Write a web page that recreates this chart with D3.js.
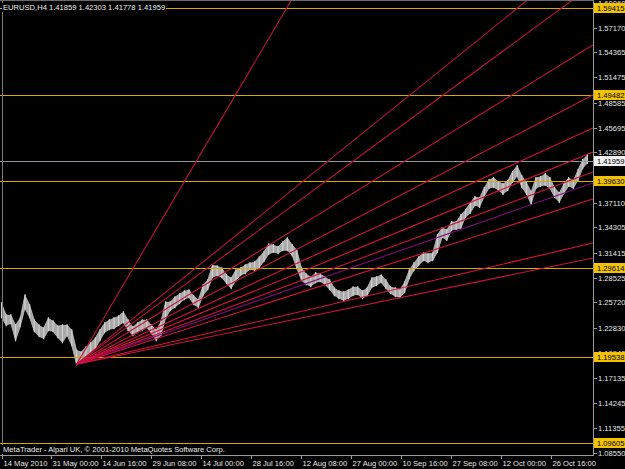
<!DOCTYPE html>
<html>
<head>
<meta charset="utf-8">
<script src="https://cdn.jsdelivr.net/npm/d3@7"></script>
<style>
  body { margin: 0; background: #000; }
  svg { display: block; }
</style>
</head>
<body>
<script>
(function () {
  'use strict';

  const width = 625,
    height = 469;

  // EURUSD H4, sampled every 6 bars (high / low of the group)
  const barsPerSample = 6;
  const highs = [
    1.2564, 1.2426, 1.2426, 1.2311, 1.2392, 1.2655, 1.2541, 1.2369, 1.2311, 1.2277,
    1.2392, 1.2357, 1.2300, 1.2311, 1.2311, 1.2254, 1.2024, 1.2002, 1.2059, 1.2105,
    1.2162, 1.2254, 1.2334, 1.2369, 1.2392, 1.2414, 1.2461, 1.2369, 1.2288, 1.2334,
    1.2369, 1.2369, 1.2311, 1.2254, 1.2346, 1.2575, 1.2575, 1.2633, 1.2667, 1.2701,
    1.2713, 1.2644, 1.2598, 1.2770, 1.2827, 1.2999, 1.2988, 1.2965, 1.2885, 1.2850,
    1.2942, 1.2965, 1.2999, 1.3022, 1.3034, 1.3091, 1.3149, 1.3240, 1.3229, 1.3206,
    1.3263, 1.3309, 1.3229, 1.3171, 1.2965, 1.2896, 1.2862, 1.2908, 1.2896, 1.2862,
    1.2827, 1.2736, 1.2701, 1.2690, 1.2713, 1.2747, 1.2747, 1.2701, 1.2736, 1.2850,
    1.2862, 1.2885, 1.2827, 1.2747, 1.2736, 1.2713, 1.2804, 1.2942, 1.3022, 1.3091,
    1.3137, 1.3126, 1.3137, 1.3344, 1.3424, 1.3401, 1.3493, 1.3493, 1.3573, 1.3630,
    1.3711, 1.3779, 1.3768, 1.3883, 1.3974, 1.3997, 1.3951, 1.3929, 1.3963, 1.4066,
    1.4135, 1.4020, 1.3940, 1.3837, 1.3997, 1.4009, 1.4043, 1.3997, 1.3883, 1.3825,
    1.3929, 1.3997, 1.3963, 1.4089, 1.4204, 1.4261
  ];
  const lows = [
    1.2403, 1.2311, 1.2334, 1.2139, 1.2300, 1.2506, 1.2403, 1.2242, 1.2185, 1.2162,
    1.2254, 1.2242, 1.2174, 1.2116, 1.2197, 1.2082, 1.1864, 1.1887, 1.1944, 1.2002,
    1.2047, 1.2139, 1.2231, 1.2265, 1.2277, 1.2311, 1.2346, 1.2254, 1.2197, 1.2231,
    1.2254, 1.2288, 1.2219, 1.2139, 1.2197, 1.2392, 1.2483, 1.2518, 1.2564, 1.2610,
    1.2633, 1.2552, 1.2518, 1.2655, 1.2724, 1.2862, 1.2885, 1.2862, 1.2793, 1.2736,
    1.2827, 1.2885, 1.2908, 1.2954, 1.2942, 1.2976, 1.3045, 1.3126, 1.3149, 1.3137,
    1.3171, 1.3171, 1.3114, 1.2965, 1.2827, 1.2781, 1.2759, 1.2804, 1.2816, 1.2781,
    1.2724, 1.2655, 1.2621, 1.2598, 1.2621, 1.2655, 1.2667, 1.2621, 1.2655, 1.2747,
    1.2770, 1.2804, 1.2736, 1.2678, 1.2644, 1.2633, 1.2690, 1.2850, 1.2942, 1.2999,
    1.3057, 1.3034, 1.3057, 1.3149, 1.3321, 1.3286, 1.3401, 1.3412, 1.3424, 1.3550,
    1.3596, 1.3688, 1.3665, 1.3791, 1.3883, 1.3894, 1.3860, 1.3814, 1.3860, 1.3951,
    1.4020, 1.3894, 1.3814, 1.3699, 1.3883, 1.3906, 1.3917, 1.3883, 1.3779, 1.3722,
    1.3825, 1.3906, 1.3883, 1.3974, 1.4112, 1.4169
  ];

  // gann fan: origin at the June low, each ray given by its price at the right edge
  const fanOrigin = { bar: 96, price: 1.1866 };
  const fanEndBar = 757;
  const fanEnds = [2.1880, 1.6639, 1.6205, 1.5520, 1.4947, 1.4570, 1.4295, 1.4066, 1.3940, 1.3757, 1.3253, 1.3081];
  const fanColors = ['#c0103c', '#c0103c', '#c0103c', '#c8103c', '#c8103c', '#d0103c', '#e0103c',
    '#c8103c', '#80087a', '#d8103c', '#e0103c', '#d0103c'];

  const levels = [1.59415, 1.49482, 1.39630, 1.29614, 1.19538, 1.09605];
  const bid = 1.41959;
  const title = 'EURUSD,H4  1.41859 1.42303 1.41778 1.41959';
  const footer = 'MetaTrader - Alpari UK, \u00a9 2001-2010 MetaQuotes Software Corp.';

  const priceTicks = [1.60060, 1.57170, 1.54365, 1.51475, 1.48585, 1.45695, 1.42890, 1.40000, 1.37110,
    1.34305, 1.31415, 1.28525, 1.25720, 1.22830, 1.19940, 1.17135, 1.14245, 1.11355, 1.08550];
  const barsPerLabel = 64;
  const timeLabels = ['14 May 2010', '31 May 00:00', '14 Jun 16:00', '29 Jun 08:00', '14 Jul 00:00',
    '28 Jul 16:00', '12 Aug 08:00', '27 Aug 00:00', '10 Sep 16:00', '27 Sep 08:00', '12 Oct 00:00', '26 Oct 16:00'];

  const plotRight = 593,
    plotBottom = 455;
  const font = '"Liberation Sans", Arial, sans-serif';
  const gold = '#d8aa00';
  const axisColor = '#9a9a9a';

  const x = d3.scaleLinear().domain([0, 756.5]).range([1.5, 592.5]);
  const y = d3.scaleLinear().domain([1.0855, 1.6006]).range([452.5, 2.5]);

  const svg = d3.select('body')
    .append('svg')
    .attr('width', width)
    .attr('height', height)
    .style('background', '#000');

  svg.append('clipPath').attr('id', 'plot')
    .append('rect').attr('x', 0).attr('y', 0).attr('width', plotRight).attr('height', plotBottom);

  const plot = svg.append('g').attr('clip-path', 'url(#plot)');

  // price band: area between the sampled highs and lows, plus a wick per sample
  const band = d3.area()
    .x((d, i) => x(i * barsPerSample))
    .y0((d, i) => y(lows[i]))
    .y1(d => y(d));
  plot.append('path')
    .datum(highs)
    .attr('d', band)
    .style('fill', '#a9a9a9')
    .style('stroke', '#c4c4c4')
    .style('stroke-width', 0.8);

  plot.selectAll('line.wick')
    .data(highs)
    .enter()
    .append('line')
    .attr('class', 'wick')
    .attr('x1', (d, i) => x(i * barsPerSample))
    .attr('x2', (d, i) => x(i * barsPerSample))
    .attr('y1', d => y(d) - 1)
    .attr('y2', (d, i) => y(lows[i]) + 1)
    .style('stroke', '#d0d0d0')
    .style('stroke-width', 1.2);

  // horizontal levels
  plot.selectAll('line.level')
    .data(levels)
    .enter()
    .append('line')
    .attr('x1', 0).attr('x2', plotRight)
    .attr('y1', d => Math.round(y(d)) + 0.5)
    .attr('y2', d => Math.round(y(d)) + 0.5)
    .style('stroke', gold)
    .style('stroke-width', 1);

  // bid line
  plot.append('line')
    .attr('x1', 0).attr('x2', plotRight)
    .attr('y1', Math.round(y(bid)) + 0.5).attr('y2', Math.round(y(bid)) + 0.5)
    .style('stroke', '#8c969e');

  // fan rays
  plot.selectAll('line.fan')
    .data(fanEnds)
    .enter()
    .append('line')
    .attr('x1', x(fanOrigin.bar))
    .attr('y1', y(fanOrigin.price))
    .attr('x2', x(fanEndBar))
    .attr('y2', d => y(d))
    .style('stroke', (d, i) => fanColors[i])
    .style('stroke-width', 1.1);

  // left vertical line
  svg.append('line')
    .attr('x1', 2.5).attr('x2', 2.5).attr('y1', 0).attr('y2', plotBottom)
    .style('stroke', '#7a7a7a');

  // frame / axes
  svg.append('line').attr('x1', 0).attr('x2', plotRight).attr('y1', 0.5).attr('y2', 0.5)
    .style('stroke', '#6a6a6a');
  svg.append('line').attr('x1', plotRight + 0.5).attr('x2', plotRight + 0.5).attr('y1', 0).attr('y2', plotBottom + 1)
    .style('stroke', axisColor);
  svg.append('line').attr('x1', 0).attr('x2', plotRight + 1).attr('y1', plotBottom + 0.5).attr('y2', plotBottom + 0.5)
    .style('stroke', axisColor);

  // price axis
  const pt = svg.selectAll('g.ptick')
    .data(priceTicks)
    .enter()
    .append('g')
    .attr('transform', d => 'translate(0,' + (Math.round(y(d)) + 0.5) + ')');
  pt.append('line')
    .attr('x1', plotRight).attr('x2', plotRight + 4)
    .style('stroke', axisColor);
  pt.append('text')
    .attr('x', plotRight + 5)
    .attr('dy', '0.35em')
    .style('font-family', font)
    .style('font-size', '7.6px')
    .style('fill', '#e6e6e6')
    .text(d => d.toFixed(5));

  // time axis
  const tt = svg.selectAll('g.ttick')
    .data(timeLabels)
    .enter()
    .append('g')
    .attr('transform', (d, i) => 'translate(' + (Math.round(x(i * barsPerLabel)) + 0.5) + ',0)');
  tt.append('line')
    .attr('y1', plotBottom).attr('y2', plotBottom + 4)
    .style('stroke', axisColor);
  tt.append('text')
    .attr('x', 1)
    .attr('y', plotBottom + 11)
    .style('font-family', font)
    .style('font-size', '7.6px')
    .style('fill', '#e6e6e6')
    .text(d => d);

  // level labels
  function tag(v, bg, fg) {
    const g = svg.append('g').attr('transform', 'translate(' + (plotRight + 1) + ',' + Math.round(y(v)) + ')');
    g.append('rect').attr('x', 0).attr('y', -5).attr('width', 31).attr('height', 10)
      .style('fill', bg);
    g.append('text').attr('x', 3).attr('dy', '0.35em')
      .style('font-family', font).style('font-size', '7.6px').style('fill', fg)
      .text(v.toFixed(5));
  }
  levels.forEach(v => tag(v, '#f2c200', '#000'));
  tag(bid, '#f0f0f0', '#000');

  // corner texts with black backing
  function label(txt, tx, ty) {
    const t = svg.append('text').attr('x', tx).attr('y', ty)
      .style('font-family', font).style('font-size', '7.6px').style('fill', '#ededed')
      .text(txt);
    const b = t.node().getBBox();
    svg.insert('rect', function () { return t.node(); })
      .attr('x', b.x - 1).attr('y', b.y).attr('width', b.width + 2).attr('height', b.height)
      .style('fill', '#000');
  }
  label(title, 3, 10);
  label(footer, 3, 452);

})();
</script>
</body>
</html>
